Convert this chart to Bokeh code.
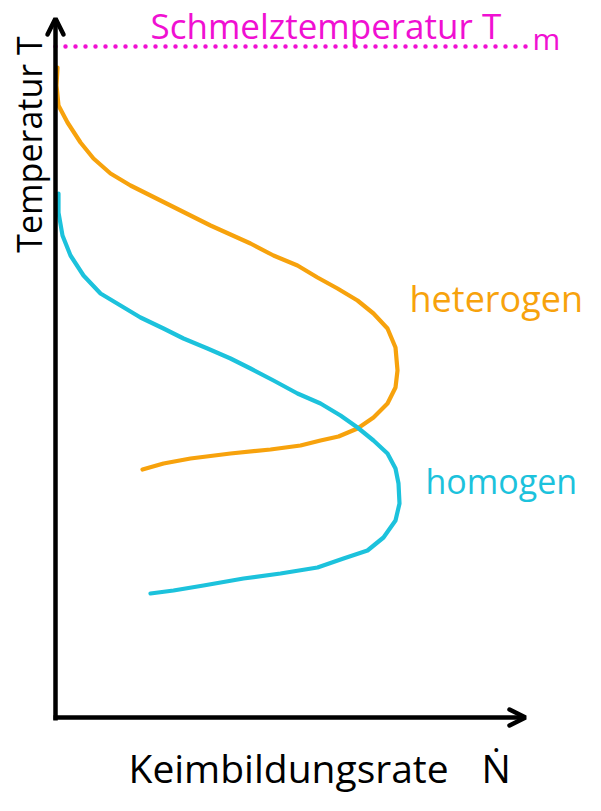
import numpy as np
from bokeh.plotting import figure
from bokeh.models import Range1d, Arrow, OpenHead
from bokeh.core.properties import value
from bokeh.embed import file_html
from bokeh.resources import INLINE

# ---- data (arbitrary units: x = nucleation rate, y = temperature) ----
hetero_rate = [2, 1, 3, 12, 25, 38, 55, 75, 95, 115, 135, 155, 175, 195, 218, 242, 262, 282,
               302, 318, 332, 340, 342, 340, 332, 318, 302, 283, 265, 245, 215, 175, 135, 108, 87]
hetero_temp = [650, 632, 612, 595, 575, 559, 544, 532, 522, 512, 502, 492, 483, 474, 462, 452,
               440, 429, 417, 404, 389, 370, 347, 330, 314, 300, 289, 281, 277, 272, 268, 264,
               259, 254, 248]

homo_rate = [3, 3, 7, 15, 28, 45, 65, 85, 108, 128, 152, 175, 195, 218, 242, 265, 285, 302,
             318, 332, 340, 343, 344, 340, 328, 312, 288, 262, 225, 188, 148, 118, 95]
homo_temp = [524, 505, 482, 462, 442, 424, 412, 400, 389, 379, 369, 359, 349, 337, 324, 314,
             302, 290, 277, 264, 249, 234, 214, 197, 180, 167, 159, 150, 144, 139, 132, 127, 124]

melt_temp = 671          # Schmelztemperatur T_m
rate_max = 472           # extent of rate axis
temp_max = 699           # extent of temperature axis

ORANGE = "#f7a20c"
CYAN = "#1cc2dc"
MAGENTA = "#f010d2"
FONT = "Open Sans"

p = figure(width=585, height=795, x_range=Range1d(-55, 530), y_range=Range1d(-78, 717),
           toolbar_location=None, output_backend="svg", min_border=0,
           x_axis_type=None, y_axis_type=None)
p.grid.visible = False
p.outline_line_color = None

# axes arrows
p.add_layout(Arrow(end=OpenHead(size=16, line_width=4.5, line_color="black", line_cap="round"),
                   x_start=0, y_start=-3, x_end=0, y_end=temp_max,
                   line_width=4.5, line_color="black"))
p.add_layout(Arrow(end=OpenHead(size=16, line_width=4.5, line_color="black", line_cap="round"),
                   x_start=-2, y_start=0, x_end=rate_max - 2, y_end=0,
                   line_width=4.5, line_color="black"))

# melting temperature dotted line
p.line([0, rate_max], [melt_temp, melt_temp], line_color=MAGENTA, line_width=4.5,
       line_dash="0 10", line_cap="round")

# curves
p.line(hetero_rate, hetero_temp, line_color=ORANGE, line_width=4.2, line_join="round", line_cap="round")
p.line(homo_rate, homo_temp, line_color=CYAN, line_width=4.2, line_join="round", line_cap="round")

# texts
p.text(x=[95], y=[692], text=["Schmelztemperatur T"], text_color=MAGENTA,
       text_font=value(FONT), text_font_size="35px", text_baseline="middle", text_align="left")
p.text(x=[477], y=[679], text=["m"], text_color=MAGENTA,
       text_font=value(FONT), text_font_size="30px", text_baseline="middle", text_align="left")

p.text(x=[354], y=[419], text=["heterogen"], text_color=ORANGE,
       text_font=value(FONT), text_font_size="36px", text_baseline="middle", text_align="left")
p.text(x=[370], y=[237], text=["homogen"], text_color=CYAN,
       text_font=value(FONT), text_font_size="34px", text_baseline="middle", text_align="left")

p.text(x=[73], y=[-50], text=["Keimbildungsrate"], text_color="black",
       text_font=value(FONT), text_font_size="39px", text_baseline="middle", text_align="left")
p.text(x=[426], y=[-50], text=["Ṅ"], text_color="black",
       text_font=value(FONT), text_font_size="39px", text_baseline="middle", text_align="left")
p.text(x=[-27], y=[573], text=["Temperatur T"], text_color="black", angle=np.pi / 2,
       text_font=value(FONT), text_font_size="34px", text_baseline="middle", text_align="center")

open("out.html", "w").write(file_html(p, INLINE))
